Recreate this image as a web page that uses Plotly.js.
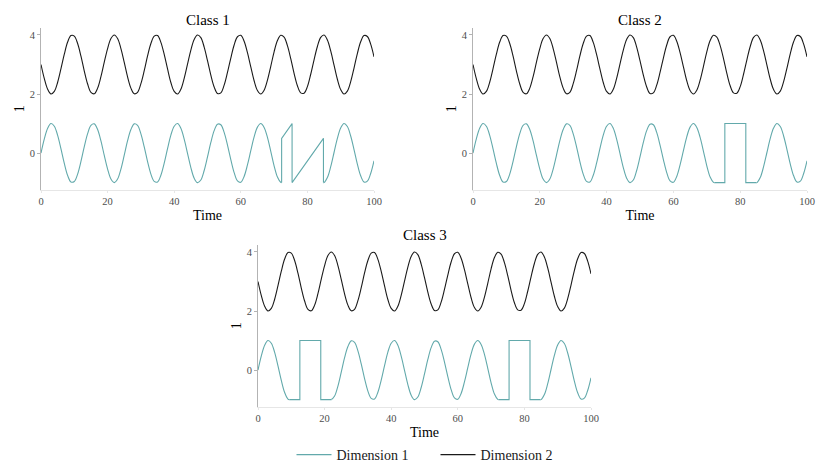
<!DOCTYPE html>
<html>
<head>
<meta charset="utf-8">
<script src="https://cdn.plot.ly/plotly-3.0.1.min.js"></script>
<style>html,body{margin:0;padding:0;background:#fff;}#chart{width:831px;height:476px;}</style>
</head>
<body>
<div id="chart"></div>
<script>
// ---- data ----
const time = [0,1,2,3,4,5,6,7,8,9,10,11,12,13,14,15,16,17,18,19,20,21,22,23,24,25,26,27,28,29,30,31,32,33,34,35,36,37,38,39,40,41,42,43,44,45,46,47,48,49,50,51,52,53,54,55,56,57,58,59,60,61,62,63,64,65,66,67,68,69,70,71,72,73,74,75,76,77,78,79,80,81,82,83,84,85,86,87,88,89,90,91,92,93,94,95,96,97,98,99,100];

const dimension1 = [0,0.48,0.84,1.00,0.91,0.60,0.14,-0.35,-0.76,-0.98,
 -0.96,-0.71,-0.28,0.22,0.66,0.94,0.99,0.80,0.41,-0.08,
 -0.54,-0.88,-1.00,-0.88,-0.54,-0.07,0.42,0.80,0.99,0.94,
 0.65,0.21,-0.29,-0.71,-0.96,-0.98,-0.75,-0.34,0.15,0.61,
 0.91,1.00,0.84,0.47,-0.01,-0.49,-0.85,-1.00,-0.91,-0.59,
 -0.13,0.36,0.76,0.98,0.96,0.70,0.27,-0.22,-0.66,-0.94,
 -0.99,-0.79,-0.40,0.08,0.55,0.88,1.00,0.87,0.53,0.06,
 -0.43,-0.81,-0.99,-0.93,-0.64,-0.20,0.30,0.72,0.96,0.97,
 0.75,0.33,-0.16,-0.61,-0.92,-1.00,-0.83,-0.46,0.02,0.50,
 0.85,1.00,0.90,0.58,0.12,-0.37,-0.77,-0.98,-0.95,-0.69,
 -0.26];

const dimension2 = [3.00,2.52,2.16,2.00,2.09,2.40,2.86,3.35,3.76,3.98,
 3.96,3.71,3.28,2.78,2.34,2.06,2.01,2.20,2.59,3.08,
 3.54,3.88,4.00,3.88,3.54,3.07,2.58,2.20,2.01,2.06,
 2.35,2.79,3.29,3.71,3.96,3.98,3.75,3.34,2.85,2.39,
 2.09,2.00,2.16,2.53,3.01,3.49,3.85,4.00,3.91,3.59,
 3.13,2.64,2.24,2.02,2.04,2.30,2.73,3.22,3.66,3.94,
 3.99,3.79,3.40,2.92,2.45,2.12,2.00,2.13,2.47,2.94,
 3.43,3.81,3.99,3.93,3.64,3.20,2.70,2.28,2.04,2.03,
 2.25,2.67,3.16,3.61,3.92,4.00,3.83,3.46,2.98,2.50,
 2.15,2.00,2.10,2.42,2.88,3.37,3.77,3.98,3.95,3.69,
 3.26];

// anomaly segments in Dimension 1
const class1AnomalyTime  = [72.26, 72.26, 75.40, 75.40, 84.82, 84.82];
const class1AnomalyValue = [-1.00, 0.50, 1.00, -1.00, 0.50, -1.00];

const class2AnomalyTime  = [72.26, 75.40, 75.40, 81.68, 81.68, 84.82];
const class2AnomalyValue = [-1.00, -1.00, 1.00, 1.00, -1.00, -1.00];

const class3AnomalyTimeA  = [9.42, 12.57, 12.57, 18.85, 18.85, 21.99];
const class3AnomalyValueA = [-1.00, -1.00, 1.00, 1.00, -1.00, -1.00];
const class3AnomalyTimeB  = [72.26, 75.40, 75.40, 81.68, 81.68, 84.82];
const class3AnomalyValueB = [-1.00, -1.00, 1.00, 1.00, -1.00, -1.00];

const classNames = ['Class 1', 'Class 2', 'Class 3'];
const seriesNames = ['Dimension 1', 'Dimension 2'];
const tickX = [0, 20, 40, 60, 80, 100];
const tickY = [0, 2, 4];

// split Dimension 1 into smooth base pieces and straight anomaly pieces
function buildPieces(segments) {
  const pieces = [];
  let cur = {x: [], y: []};
  let i = 0;
  for (const s of segments) {
    const last = s.t.length - 1;
    while (i < time.length && time[i] < s.t[0]) { cur.x.push(time[i]); cur.y.push(dimension1[i]); i++; }
    cur.x.push(s.t[0]); cur.y.push(s.v[0]);
    pieces.push({x: cur.x, y: cur.y, shape: 'spline'});
    pieces.push({x: s.t, y: s.v, shape: 'linear'});
    cur = {x: [s.t[last]], y: [s.v[last]]};
    while (i < time.length && time[i] <= s.t[last]) i++;
  }
  while (i < time.length) { cur.x.push(time[i]); cur.y.push(dimension1[i]); i++; }
  pieces.push({x: cur.x, y: cur.y, shape: 'spline'});
  return pieces;
}

const dim1Pieces = [
  buildPieces([{t: class1AnomalyTime, v: class1AnomalyValue}]),
  buildPieces([{t: class2AnomalyTime, v: class2AnomalyValue}]),
  buildPieces([{t: class3AnomalyTimeA, v: class3AnomalyValueA}, {t: class3AnomalyTimeB, v: class3AnomalyValueB}])
];

const tealColor = '#62a9ab';
const darkColor = '#1a1a1a';
const FONT = '"Liberation Serif", "DejaVu Serif", serif';

const traces = [];
for (let k = 0; k < 3; k++) {
  const ax = k === 0 ? '' : String(k + 1);
  dim1Pieces[k].forEach((p, j) => {
    traces.push({
      type: 'scatter', mode: 'lines', x: p.x, y: p.y,
      xaxis: 'x' + ax, yaxis: 'y' + ax, name: seriesNames[0], legendgroup: 'd1', legendrank: 1,
      showlegend: k === 0 && j === 0, line: {color: tealColor, width: 1.1, shape: p.shape, smoothing: 1},
      hoverinfo: 'skip'
    });
  });
  traces.push({
    type: 'scatter', mode: 'lines', x: time, y: dimension2,
    xaxis: 'x' + ax, yaxis: 'y' + ax, name: seriesNames[1], legendgroup: 'd2', legendrank: 2,
    showlegend: k === 0, line: {color: darkColor, width: 1.1, shape: 'spline', smoothing: 1},
    hoverinfo: 'skip'
  });
}

const W = 831, H = 476;
const px = (a, b) => [a / W, b / W];
const py = (top, bottom) => [1 - bottom / H, 1 - top / H];
const xDomains = [px(41, 374), px(473, 807), px(258, 591)];
const yDomains = [py(27.6, 190), py(27.6, 190), py(244.6, 407)];

function xAxis(k) {
  return {
    domain: xDomains[k], anchor: k === 0 ? 'y' : 'y' + (k + 1), range: [0, 100],
    tickvals: tickX, ticks: 'outside', ticklen: 2, tickcolor: '#e6e6e6',
    ticklabelstandoff: -1,
    showline: true, linecolor: '#e6e6e6', linewidth: 1,
    showgrid: false, zeroline: false,
    tickfont: {family: FONT, size: 10.5, color: '#4d4d4d'},
    title: {text: 'Time', font: {family: FONT, size: 14, color: '#000'}, standoff: 4},
    fixedrange: true
  };
}
function yAxis(k) {
  return {
    domain: yDomains[k], anchor: k === 0 ? 'x' : 'x' + (k + 1), range: [-1.25, 4.25],
    tickvals: tickY, ticks: 'outside', ticklen: 3, tickcolor: '#b3b3b3',
    showline: true, linecolor: '#b3b3b3', linewidth: 1,
    showgrid: false, zeroline: false,
    tickfont: {family: FONT, size: 10.5, color: '#4d4d4d'},
    title: {text: '1', font: {family: FONT, size: 14, color: '#000'}, standoff: 1},
    fixedrange: true
  };
}

const layout = {
  width: W, height: H,
  margin: {l: 0, r: 0, t: 0, b: 0},
  paper_bgcolor: '#fff', plot_bgcolor: '#fff',
  font: {family: FONT, color: '#000'},
  xaxis: xAxis(0), yaxis: yAxis(0),
  xaxis2: xAxis(1), yaxis2: yAxis(1),
  xaxis3: xAxis(2), yaxis3: yAxis(2),
  showlegend: true,
  legend: {
    orientation: 'h', x: 435.5 / W, xanchor: 'center', y: 1 - 455 / H, yanchor: 'middle',
    font: {family: FONT, size: 14, color: '#1a1a1a'}, itemwidth: 35, entrywidth: 94,
    tracegroupgap: 0, traceorder: 'normal'
  },
  annotations: classNames.map((name, k) => ({
    text: name, xref: 'paper', yref: 'paper', showarrow: false,
    x: (xDomains[k][0] + xDomains[k][1]) / 2, xanchor: 'center',
    y: k < 2 ? 1 - 20 / H : 1 - 235 / H, yanchor: 'middle',
    font: {family: FONT, size: 15, color: '#000'}
  }))
};

Plotly.newPlot('chart', traces, layout, {displayModeBar: false, staticPlot: true});
</script>
</body>
</html>
